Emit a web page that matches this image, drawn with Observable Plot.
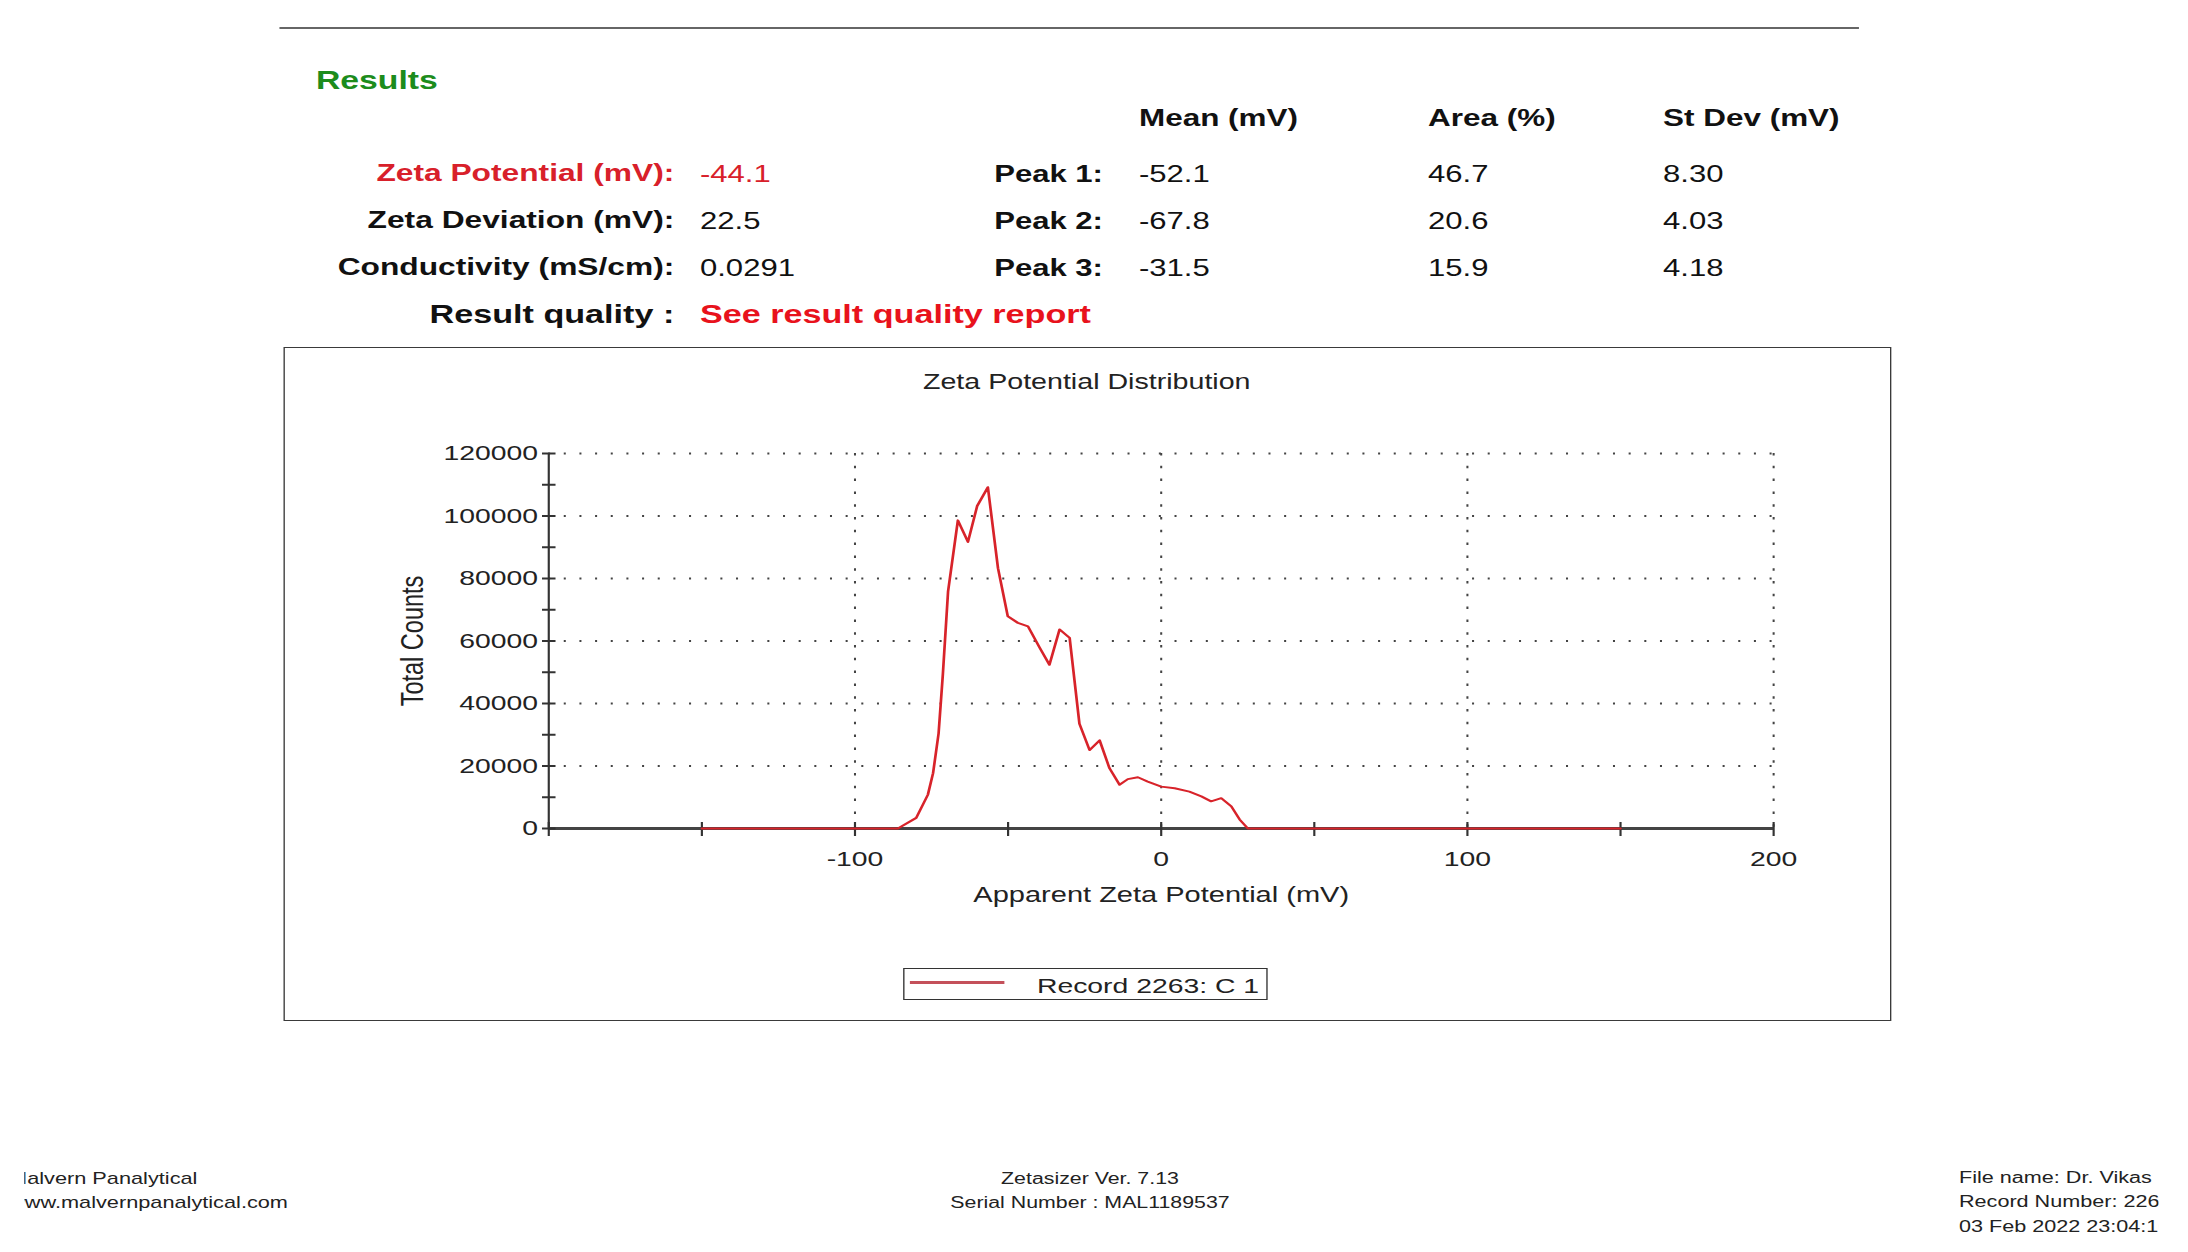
<!DOCTYPE html>
<html><head><meta charset="utf-8">
<script src="https://cdn.jsdelivr.net/npm/d3@7"></script>
<script src="https://cdn.jsdelivr.net/npm/@observablehq/plot@0.6"></script>
<style>
html,body{margin:0;padding:0;background:#fff;overflow:hidden;width:2188px;height:1252px;}
#page{position:absolute;left:0;top:0;width:1621px;height:1252px;transform:scaleX(1.35);transform-origin:0 0;font-family:"Liberation Sans",Arial,sans-serif;color:#111;}
.t{position:absolute;white-space:nowrap;line-height:1;}
</style></head><body><div id="page"></div><script>
// ---- data ----
const zetaX  = [-150, -86, -80, -76.2, -74.5, -72.7, -71.3, -69.6, -66.4, -63.1, -60.1, -56.6, -53.3, -50.1, -46.8, -43.5, -39.7, -36.5, -33.2, -29.9, -26.7, -23.4, -20.1, -16.9, -13.6, -10.9, -7.6, -4.4, 0, 4.4, 9.2, 13.1, 16.3, 19.6, 22.9, 25.6, 28.3, 150];
const counts = [0, 0, 3400, 10800, 17700, 30400, 49400, 75900, 98600, 91700, 103200, 109200, 83300, 67900, 65800, 64700, 57900, 52400, 63700, 61000, 33500, 25100, 28200, 19300, 14000, 15800, 16400, 15000, 13400, 12900, 11800, 10300, 8700, 9700, 7100, 2900, 0, 0];
const xDomain = [-200, 200];
const yDomain = [0, 120000];
const xTickLabels = [-100, 0, 100, 200];
const xTickMarks = [-200, -150, -100, -50, 0, 50, 100, 150, 200];
const yTickLabels = [0, 20000, 40000, 60000, 80000, 100000, 120000];
const yTickMarks = [0, 10000, 20000, 30000, 40000, 50000, 60000, 70000, 80000, 90000, 100000, 110000, 120000];
const xGrid = [-100, 0, 100, 200];
const yGrid = [20000, 40000, 60000, 80000, 100000, 120000];
const chartTitle = "Zeta Potential Distribution";
const xLabel = "Apparent Zeta Potential (mV)";
const yLabel = "Total Counts";
const legendLabel = "Record 2263: C 1";

const summaryLabels = ["Zeta Potential (mV):", "Zeta Deviation (mV):", "Conductivity (mS/cm):"];
const summaryValues = ["-44.1", "22.5", "0.0291"];
const columnHeaders = ["Mean (mV)", "Area (%)", "St Dev (mV)"];
const peakLabels = ["Peak 1:", "Peak 2:", "Peak 3:"];
const peakMeans = ["-52.1", "-67.8", "-31.5"];
const peakAreas = ["46.7", "20.6", "15.9"];
const peakStDevs = ["8.30", "4.03", "4.18"];
const footerLeft = ["Malvern Panalytical", "www.malvernpanalytical.com"];
const footerCenter = ["Zetasizer Ver. 7.13", "Serial Number : MAL1189537"];
const footerRight = ["File name: Dr. Vikas", "Record Number: 2263", "03 Feb 2022 23:04:16"];

// ---- layout helpers ----
const page = document.getElementById("page");
function txt(s, o, parent) {
  const d = document.createElement("div");
  d.className = "t";
  d.textContent = s;
  const size = o.size;
  d.style.fontSize = size + "px";
  d.style.fontWeight = o.weight || 400;
  d.style.color = o.color || "#111";
  d.style.top = (o.base - 0.8465 * size) + "px";
  d.style.left = o.x + "px";
  if (o.anchor === "end") d.style.transform = "translateX(-100%)";
  if (o.anchor === "middle") d.style.transform = "translateX(-50%)";
  (parent || page).appendChild(d);
  return d;
}
function box(css) {
  const d = document.createElement("div");
  d.style.position = "absolute";
  Object.assign(d.style, css);
  page.appendChild(d);
  return d;
}

// top rule
box({left: "206.7px", top: "27px", width: "1170px", height: "2px", background: "#666"});

// Results block
txt("Results", {x: 234, base: 89, size: 25, weight: 700, color: "#1c8c1c"});
const rowBase = [182, 229, 276];
const labelColors = ["#d8202a", "#111", "#111"];
const labelRight = 499.5;
summaryLabels.forEach((s, i) => {
  txt(s, {x: labelRight, base: rowBase[i], size: 23.5, weight: 700, color: labelColors[i], anchor: "end"});
  txt(summaryValues[i], {x: 518.5, base: rowBase[i], size: 23, color: labelColors[i]});
});
txt("Result quality :", {x: labelRight, base: 323, size: 25.3, weight: 700, anchor: "end"});
txt("See result quality report", {x: 518.5, base: 323, size: 25.3, weight: 700, color: "#e8121c"});
const colX = [843.7, 1057.8, 1231.9];
columnHeaders.forEach((s, i) => txt(s, {x: colX[i], base: 127, size: 23.3, weight: 700}));
peakLabels.forEach((s, i) => {
  txt(s, {x: 817, base: rowBase[i], size: 23, weight: 700, anchor: "end"});
  txt(peakMeans[i], {x: colX[0], base: rowBase[i], size: 23});
  txt(peakAreas[i], {x: colX[1], base: rowBase[i], size: 23});
  txt(peakStDevs[i], {x: colX[2], base: rowBase[i], size: 23});
});

// chart frame
box({left: "209.6px", top: "347px", width: "1189px", height: "672px", border: "1.6px solid #3a3a3a"});
txt(chartTitle, {x: 805, base: 389, size: 21.2, color: "#222", anchor: "middle"});

// ---- Plot chart ----
const data = zetaX.map((x, i) => ({x, y: counts[i]}));
const chart = Plot.plot({
  width: 1080, height: 500,
  marginLeft: 126, marginRight: 46.7, marginTop: 33, marginBottom: 92,
  x: {domain: xDomain},
  y: {domain: yDomain},
  style: {fontFamily: "'Liberation Sans', Arial, sans-serif", fontSize: "21px", color: "#222", background: "transparent", overflow: "visible"},
  marks: [
    Plot.ruleY(yGrid, {stroke: "#444", strokeWidth: 2, strokeDasharray: "1.5,10.1"}),
    Plot.ruleX(xGrid, {stroke: "#444", strokeWidth: 1.5, strokeDasharray: "2.5,10.3"}),
    Plot.ruleX([xDomain[0]], {y1: () => yDomain[0], y2: () => yDomain[1], stroke: "#333", strokeWidth: 1.6}),
    Plot.ruleY([yDomain[0]], {stroke: "#444", strokeWidth: 3}),
    Plot.ruleY(yTickMarks, {x1: () => xDomain[0], x2: () => xDomain[0], insetLeft: -4.5, insetRight: -5.5, stroke: "#333", strokeWidth: 2}),
    Plot.ruleX(xTickMarks, {y1: () => yDomain[0], y2: () => yDomain[0], insetTop: -6, insetBottom: -8, stroke: "#333", strokeWidth: 1.6}),
    Plot.axisY({ticks: yTickLabels, tickSize: 0, tickPadding: 8, tickFormat: d => String(d), label: null, fontSize: 21, fill: "#222"}),
    Plot.axisX({ticks: xTickLabels, tickSize: 0, tickPadding: 23, tickFormat: d => String(d), label: null, fontSize: 21, fill: "#222"}),
    Plot.line(data, {x: "x", y: "y", stroke: "#d8232a", strokeWidth: 2}),
    Plot.text([yLabel], {frameAnchor: "left", textAnchor: "middle", rotate: -90, dx: -101, fontSize: 23.5, fill: "#222"}),
    Plot.text([xLabel], {frameAnchor: "bottom", textAnchor: "middle", dy: 73, fontSize: 21.5, fill: "#222"})
  ]
});
chart.style.position = "absolute";
chart.style.left = "280px";
chart.style.top = "420px";
page.appendChild(chart);

// legend
box({left: "668.9px", top: "968px", width: "268px", height: "30px", border: "1.6px solid #333", background: "#fff"});
box({left: "674px", top: "980.5px", width: "70.4px", height: "3px", background: "#c4505a"});
txt(legendLabel, {x: 768.1, base: 993, size: 21, color: "#222"});

// footer
const clipL = box({left: "17.5px", top: "1160px", width: "320px", height: "60px", overflow: "hidden"});
footerLeft.forEach((s, i) => txt(s, {x: -10.8, base: [1184, 1208][i] - 1160, size: 16.1, color: "#222"}, clipL));
footerCenter.forEach((s, i) => txt(s, {x: 807.4, base: [1184, 1208][i], size: 15.8, color: "#222", anchor: "middle"}));
const clipR = box({left: "1451.1px", top: "1160px", width: "148px", height: "85px", overflow: "hidden"});
footerRight.forEach((s, i) => txt(s, {x: 0, base: [1184, 1208, 1233][i] - 1160, size: 16, color: "#222"}, clipR));
</script></body></html>
